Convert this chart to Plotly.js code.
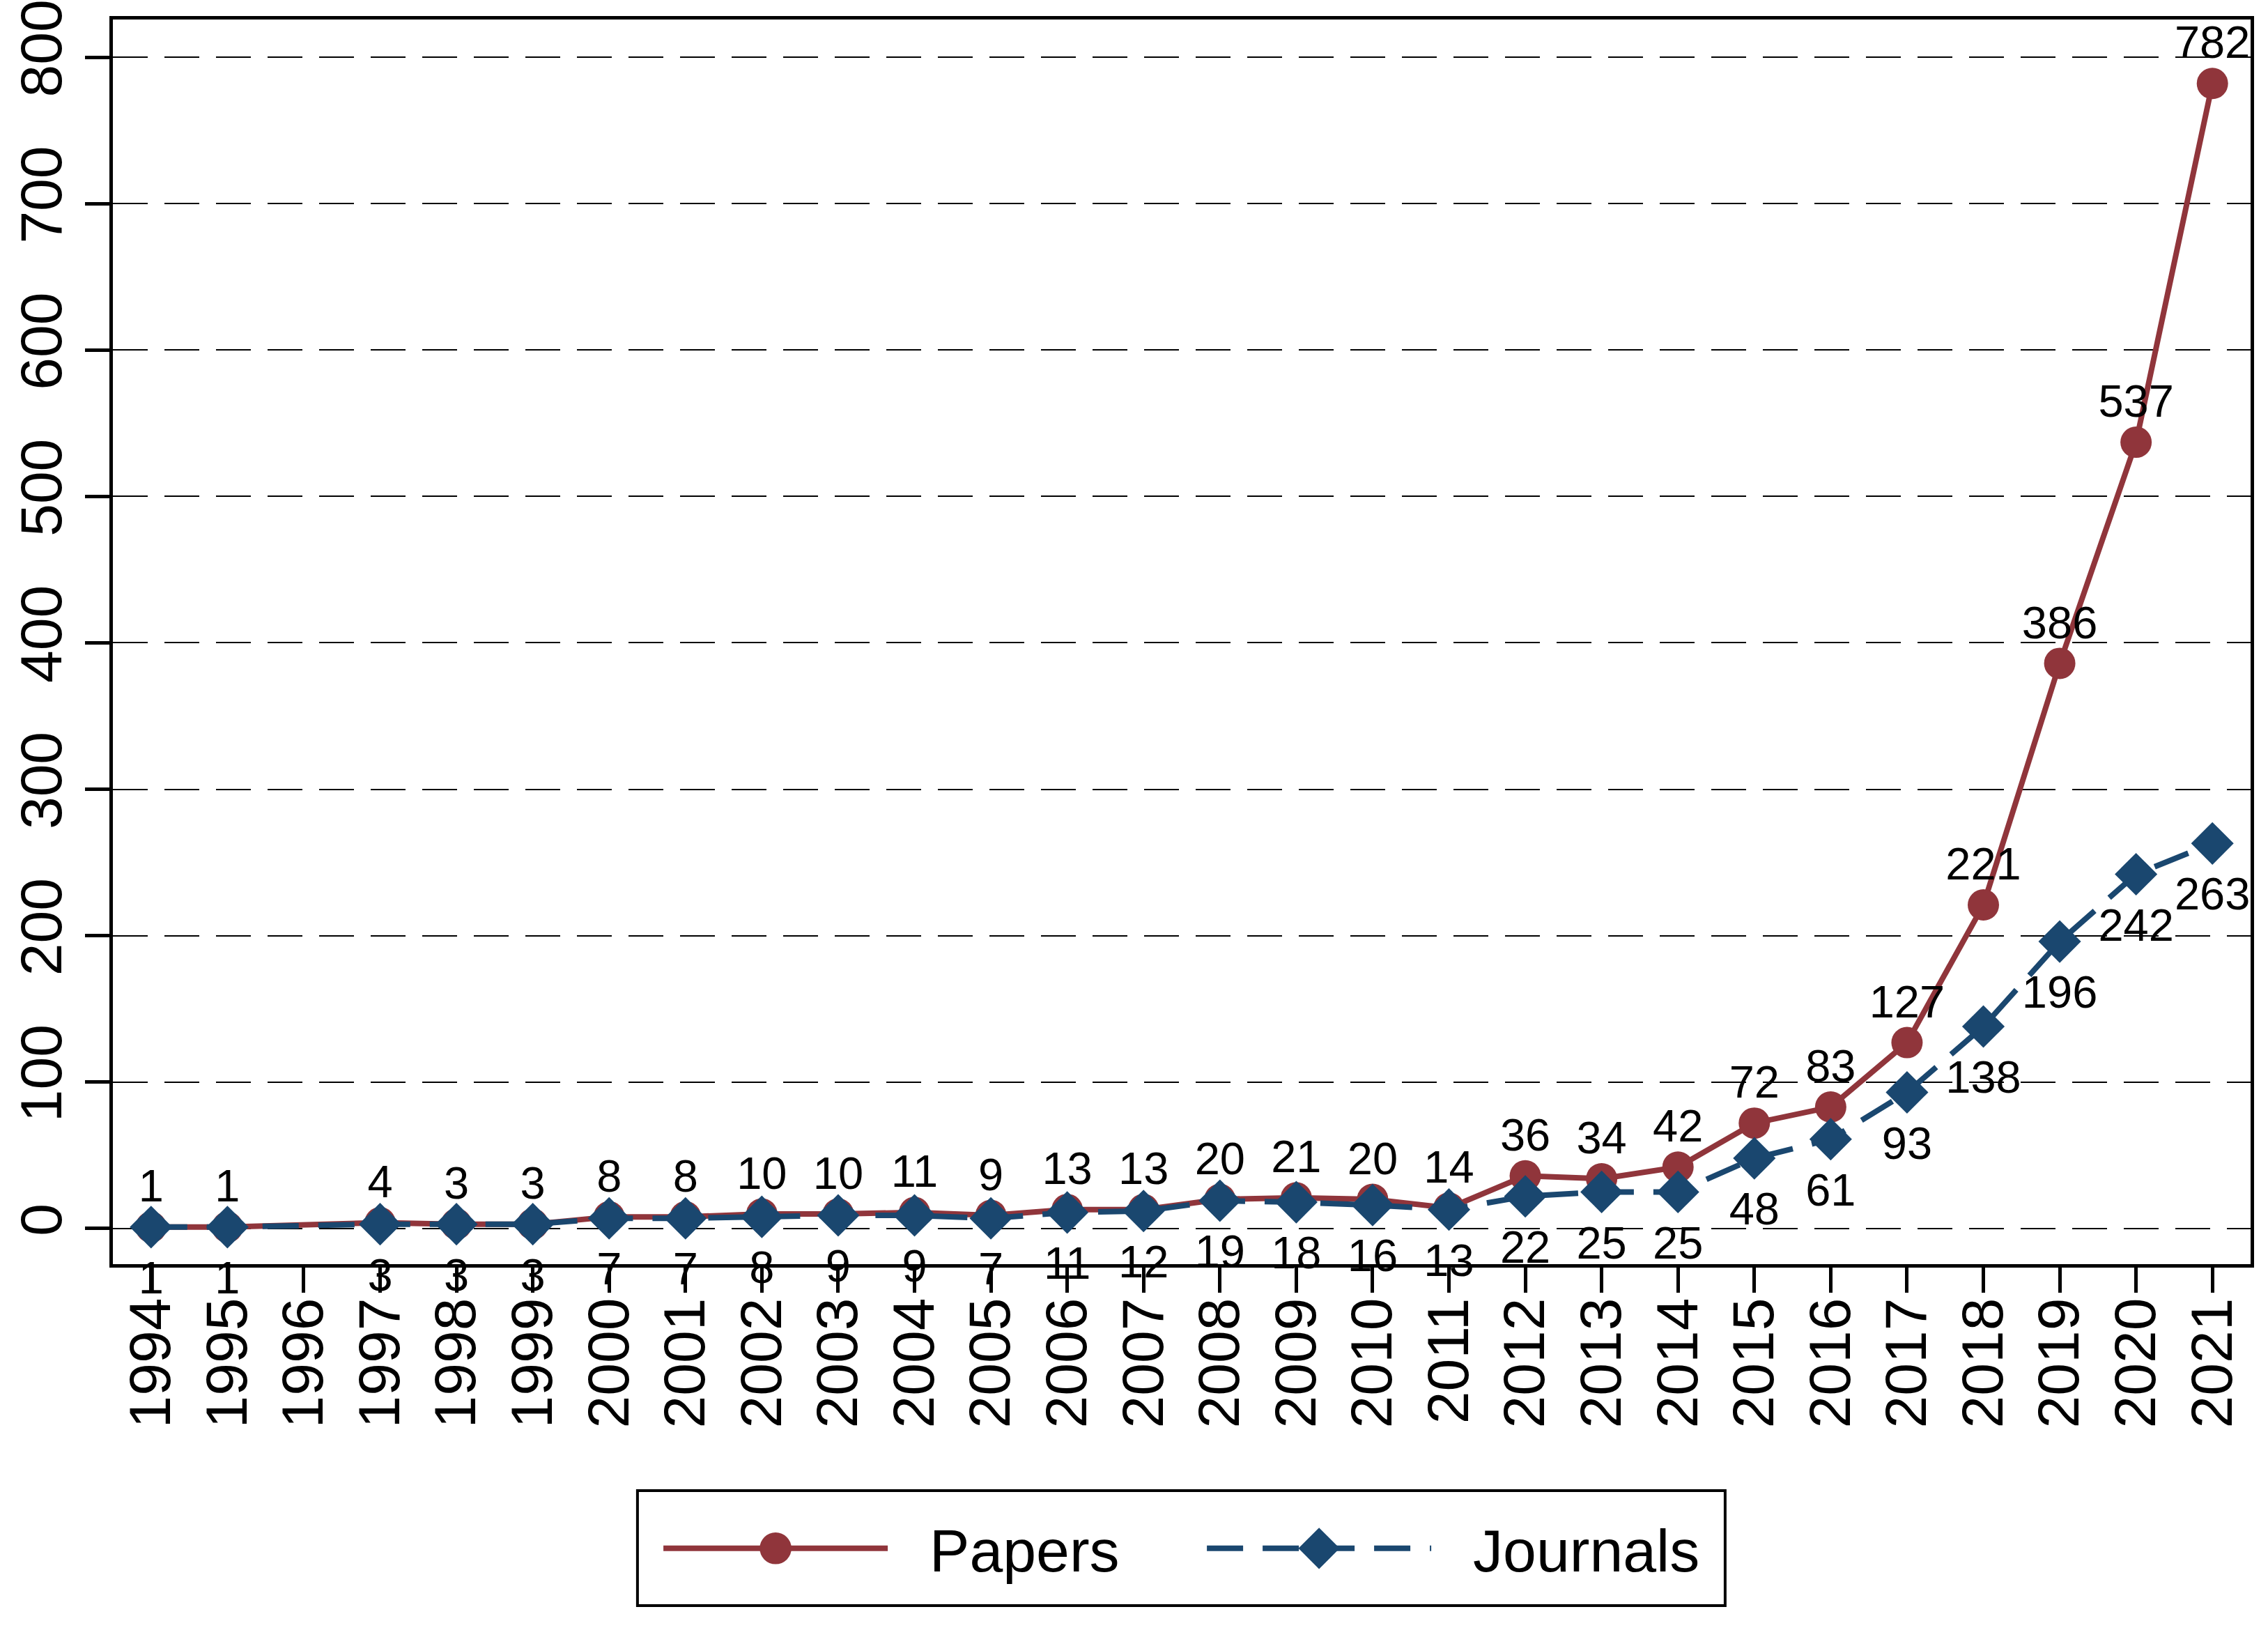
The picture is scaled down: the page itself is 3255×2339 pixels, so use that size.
<!DOCTYPE html>
<html><head><meta charset="utf-8">
<script src="https://cdn.plot.ly/plotly-3.0.1.min.js"></script>
<style>html,body{margin:0;padding:0;background:#fff;}</style>
</head><body>
<div id="chart" style="width:3255px;height:2339px;"></div>
<script>
// Data (1996 has no observation)
const years = [1994,1995,1997,1998,1999,2000,2001,2002,2003,2004,2005,2006,2007,2008,2009,2010,2011,2012,2013,2014,2015,2016,2017,2018,2019,2020,2021];
const papers = [1,1,4,3,3,8,8,10,10,11,9,13,13,20,21,20,14,36,34,42,72,83,127,221,386,537,782];
const journals = [1,1,3,3,3,7,7,8,9,9,7,11,12,19,18,16,13,22,25,25,48,61,93,138,196,242,263];
const xTickYears = [1994,1995,1996,1997,1998,1999,2000,2001,2002,2003,2004,2005,2006,2007,2008,2009,2010,2011,2012,2013,2014,2015,2016,2017,2018,2019,2020,2021];
const yTickValues = [0,100,200,300,400,500,600,700,800];
const seriesNames = ['Papers','Journals'];

const MAROON = '#90353B';
const NAVY = '#1A476F';
const FONT = 'Liberation Sans, Arial, sans-serif';

const data = [
  {
    x: years, y: papers, name: seriesNames[0], type: 'scatter',
    mode: 'lines+markers+text',
    line: {color: MAROON, width: 8},
    marker: {symbol: 'circle', size: 45, color: MAROON},
    text: papers.map(String), textposition: 'top center',
    textfont: {family: FONT, size: 65, color: '#000'},
    cliponaxis: false
  },
  {
    x: years, y: journals, name: seriesNames[1], type: 'scatter',
    mode: 'lines+markers+text',
    line: {color: NAVY, width: 8, dash: '52px,28px'},
    marker: {symbol: 'diamond', size: 47, color: NAVY},
    text: journals.map(String), textposition: 'bottom center',
    textfont: {family: FONT, size: 65, color: '#000'},
    cliponaxis: false
  }
];

const layout = {
  width: 3255, height: 2339,
  paper_bgcolor: '#fff', plot_bgcolor: '#fff',
  margin: {l: 162, r: 25, t: 28, b: 525, pad: 0},
  font: {family: FONT, color: '#000'},
  showlegend: true,
  legend: {
    orientation: 'h', x: 0.2559, xanchor: 'left', y: -0.2284, yanchor: 'middle',
    borderwidth: 0, bgcolor: 'rgba(0,0,0,0)',
    font: {family: FONT, size: 86, color: '#000'},
    itemwidth: 377, itemsizing: 'trace',
    entrywidth: 388, entrywidthmode: 'pixels'
  },
  shapes: [{
    type: 'rect', xref: 'paper', yref: 'paper',
    x0: 0.2454, x1: 0.7542, y0: -0.2744, y1: -0.1820,
    line: {color: '#000', width: 4}, fillcolor: 'rgba(0,0,0,0)', layer: 'below'
  }],
  xaxis: {
    range: [1993.5, 2021.5],
    tickmode: 'array', tickvals: xTickYears, ticktext: xTickYears.map(String),
    tickangle: -90,
    tickfont: {family: FONT, size: 84, color: '#000'},
    ticks: 'outside', ticklen: 36, tickwidth: 5, tickcolor: '#000',
    ticklabelstandoff: -26,
    showline: true, linecolor: '#000', linewidth: 5, mirror: true,
    showgrid: false, zeroline: false, ticklabeloverflow: 'allow'
  },
  yaxis: {
    range: [-24.3, 825.7],
    tickmode: 'array', tickvals: yTickValues, ticktext: yTickValues.map(String),
    tickangle: -90,
    tickfont: {family: FONT, size: 84, color: '#000'},
    ticks: 'outside', ticklen: 35, tickwidth: 5, tickcolor: '#000',
    showline: true, linecolor: '#000', linewidth: 5, mirror: true,
    showgrid: true, gridcolor: '#000', gridwidth: 2, griddash: '50px,24px',
    zeroline: false, ticklabeloverflow: 'allow'
  }
};

// Stata-style legend keys: long sample line with a full-size marker in its middle
function styleLegendKeys(gd) {
  gd.querySelectorAll('.legend .traces').forEach(tr => {
    tr.querySelectorAll('.legendlines path').forEach(p => p.setAttribute('d', 'M5,0h322'));
    tr.querySelectorAll('.legendpoints path.scatterpts').forEach(p => {
      p.setAttribute('transform', 'translate(166,0) scale(2.85)');
    });
  });
}

// Stata puts marker labels a little closer to circles and further below diamonds
function nudgeMarkerLabels(gd) {
  const offsets = [9, 16];
  const traces = gd.querySelectorAll('.scatterlayer .trace');
  traces.forEach((tr, i) => {
    const dy = offsets[i] || 0;
    tr.querySelectorAll('.textpoint text').forEach(t => {
      const y = parseFloat(t.getAttribute('y'));
      if (!isNaN(y)) t.setAttribute('y', y + dy);
    });
  });
}

Plotly.newPlot('chart', data, layout, {staticPlot: true, displayModeBar: false}).then(gd => {
  styleLegendKeys(gd);
  nudgeMarkerLabels(gd);
});
</script>
</body></html>
